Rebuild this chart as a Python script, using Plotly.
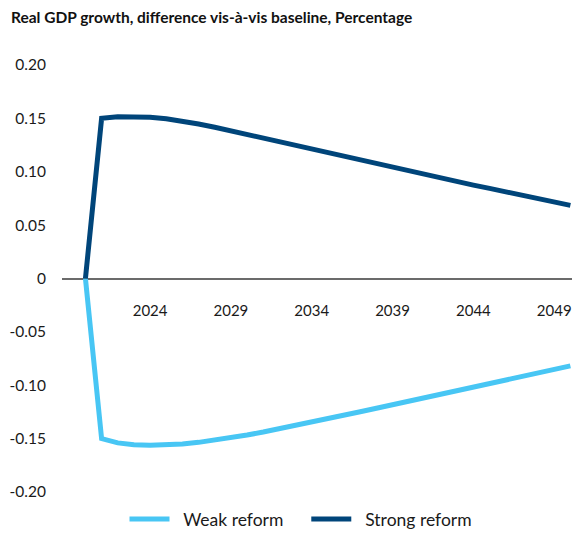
import plotly.graph_objects as go

years = list(range(2020, 2051))
strong_reform = [0.000, 0.1500, 0.1515, 0.1517, 0.1510, 0.1496, 0.1475, 0.1448, 0.1417, 0.1383,
                 0.1348, 0.1312, 0.1276, 0.1240, 0.1205, 0.1171, 0.1137, 0.1103, 0.1070, 0.1037,
                 0.1004, 0.0971, 0.0939, 0.0907, 0.0875, 0.0844, 0.0812, 0.0780, 0.0748, 0.0716, 0.0685]
weak_reform = [0.000, -0.1500, -0.1540, -0.1558, -0.1563, -0.1560, -0.1550, -0.1535, -0.1515, -0.1492,
               -0.1466, -0.1438, -0.1408, -0.1378, -0.1346, -0.1314, -0.1281, -0.1248, -0.1215, -0.1182,
               -0.1149, -0.1116, -0.1083, -0.1050, -0.1017, -0.0984, -0.0951, -0.0918, -0.0885, -0.0852, -0.0819]

x_tickvals = [2024, 2029, 2034, 2039, 2044, 2049]
y_tickvals = [0.20, 0.15, 0.10, 0.05, 0, -0.05, -0.10, -0.15, -0.20]
y_ticktext = ["0.20", "0.15", "0.10", "0.05", "0", "-0.05", "-0.10", "-0.15", "-0.20"]

FONT = "Lato"
fig = go.Figure()
fig.add_trace(go.Scatter(x=years, y=weak_reform, mode="lines",
                         name="&nbsp;&nbsp;Weak reform&nbsp;&nbsp;&nbsp;&nbsp;",
                         line=dict(color="#48C6F4", width=5)))
fig.add_trace(go.Scatter(x=years, y=strong_reform, mode="lines",
                         name="&nbsp;&nbsp;Strong reform",
                         line=dict(color="#00457A", width=5)))

fig.update_layout(
    width=572, height=537,
    margin=dict(l=62, r=0, t=65, b=45),
    paper_bgcolor="white", plot_bgcolor="white",
    font=dict(family=FONT, size=15, color="#1a1a1a"),
    title=dict(text="<b>Real GDP growth, difference vis-à-vis baseline, Percentage</b>",
               x=11/572, xref="container", xanchor="left",
               y=1-18/537, yref="container", yanchor="middle",
               font=dict(family=FONT, size=15.5, color="#111111")),
    showlegend=True,
    legend=dict(orientation="h", xref="container", x=301/572, xanchor="center",
                yref="container", y=0, yanchor="bottom",
                font=dict(family=FONT, size=17.5, color="#1a1a1a"),
                itemwidth=40, traceorder="normal"),
    xaxis=dict(range=[2018.55, 2050.1], tickvals=x_tickvals, showgrid=False,
               showline=False, zeroline=False, anchor="free", position=0.5,
               ticks="outside", ticklen=18, tickcolor="rgba(0,0,0,0)",
               automargin=False,
               tickfont=dict(family=FONT, size=15, color="#1a1a1a")),
    yaxis=dict(range=[-0.2, 0.2], tickvals=y_tickvals, ticktext=y_ticktext,
               showgrid=False, showline=False, zeroline=True,
               zerolinecolor="#6b6b6b", zerolinewidth=1.5,
               ticks="outside", ticklen=12, tickcolor="rgba(0,0,0,0)",
               automargin=False,
               tickfont=dict(family=FONT, size=15.5, color="#1a1a1a")),
)
fig.write_html("out.html", config={"displayModeBar": False},
               post_script="document.body.style.margin='0';document.body.style.padding='0';")
